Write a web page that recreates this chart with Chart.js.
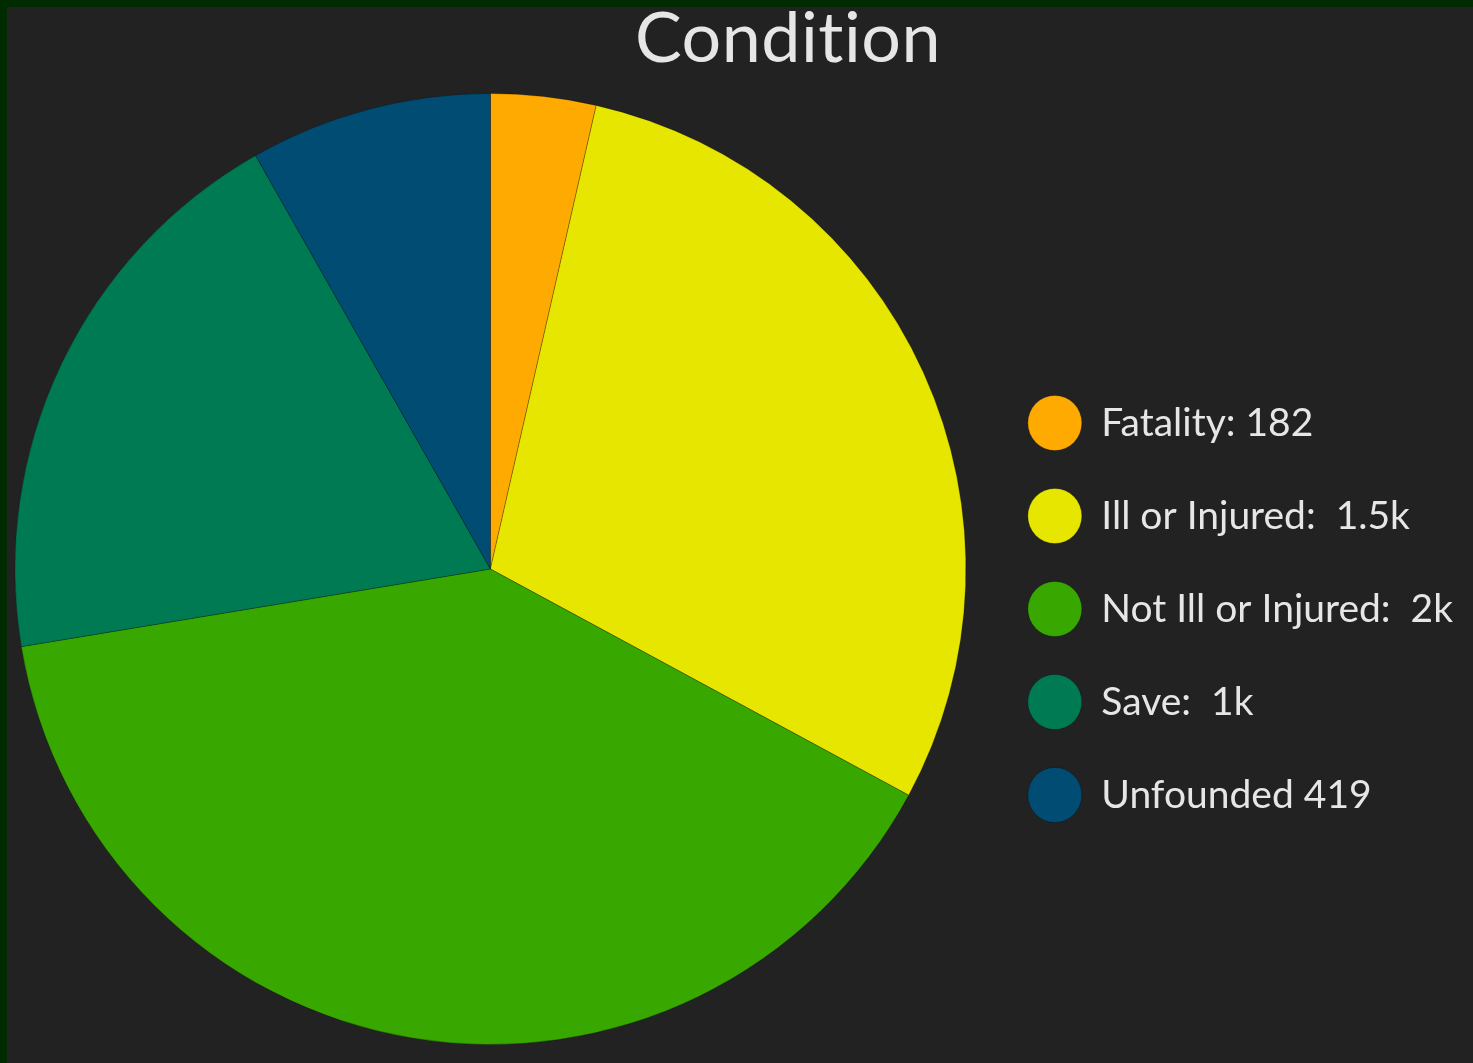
<!DOCTYPE html>
<html>
<head>
<meta charset="utf-8">
<title>Condition</title>
<script src="https://cdn.jsdelivr.net/npm/chart.js@4.4.1/dist/chart.umd.min.js"></script>
<style>
    html, body {
        margin: 0;
        padding: 0;
        width: 1473px;
        height: 1063px;
        overflow: hidden;
        background: #002a00;
    }
    #wrap {
        position: absolute;
        left: 7px;
        top: 7px;
        width: 1466px;
        height: 1056px;
        background: #222222;
    }
    #title {
        position: absolute;
        left: 481px;
        top: -7px;
        width: 600px;
        text-align: center;
        font-family: Lato, "Open Sans", sans-serif;
        font-size: 70px;
        line-height: 70px;
        letter-spacing: 0.5px;
        font-variant-ligatures: none;
        color: #e6e6e6;
    }
</style>
</head>
<body>
<div id="wrap">
    <div id="title">Condition</div>
    <canvas id="chart"></canvas>
</div>
<script>
// categories and values
let categories = ['Fatality', 'Ill or Injured', 'Not Ill or Injured', 'Save', 'Unfounded'];
let values = [182, 1494, 2013, 988, 419];
// value text as shown in the legend
let valueLabels = ['182', '1.5k', '2k', '1k', '419'];
let separators = [': ', ':  ', ':  ', ':  ', ' '];
let colors = ['#ffaa00', '#e6e600', '#38a800', '#007a52', '#004c73'];

let labels = categories.map((c, i) => c + separators[i] + valueLabels[i]);

const fontSize = 39;
const itemGap = 54;
const boxW = 54;

const canvas = document.getElementById('chart');
canvas.width = 1466;
canvas.height = 1056;
canvas.style.width = '1466px';
canvas.style.height = '1056px';
const ctx = canvas.getContext('2d');

// legend width the way chart.js works it out, so the pie area ends at x=967
ctx.font = fontSize + 'px Lato';
let textW = Math.max(...labels.map(l => ctx.measureText(l).width));
let legendW = itemGap + boxW + fontSize / 2 + textW + 10;
let padRight = Math.max(0, Math.round(1466 - 967 - legendW));

const chart = new Chart(ctx, {
    type: 'pie',
    data: {
        labels: labels,
        datasets: [{
            data: values,
            backgroundColor: colors,
            borderColor: 'rgba(0, 0, 0, 0.25)',
            borderWidth: 1
        }]
    },
    options: {
        responsive: false,
        animation: false,
        layout: {
            padding: { top: 86, bottom: 18, left: 0, right: padRight }
        },
        plugins: {
            tooltip: { enabled: false },
            legend: {
                position: 'right',
                title: {
                    // empty title only pushes the items down a bit
                    display: true,
                    text: '',
                    color: 'rgba(0,0,0,0)',
                    font: { size: 10, lineHeight: 1 },
                    padding: { top: 70, bottom: 0 }
                },
                labels: {
                    usePointStyle: true,
                    pointStyle: 'circle',
                    pointStyleWidth: boxW,
                    padding: itemGap,
                    color: '#e6e6e6',
                    font: { family: 'Lato', size: fontSize }
                }
            }
        }
    }
});
</script>
</body>
</html>
